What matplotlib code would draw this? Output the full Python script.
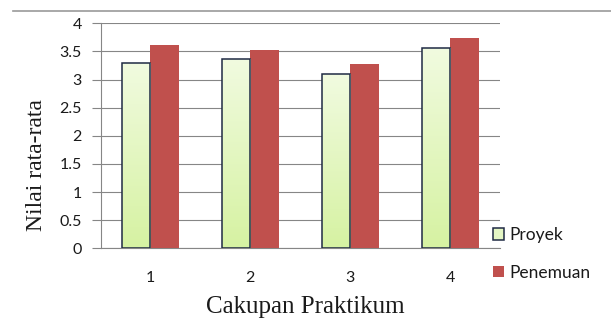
import numpy as np
import matplotlib
matplotlib.use("Agg")
import matplotlib.pyplot as plt
from matplotlib.colors import LinearSegmentedColormap
from matplotlib.lines import Line2D

# Mean scores per practicum scope, for the two learning models
categories = ["1", "2", "3", "4"]
proyek = [3.29, 3.36, 3.09, 3.56]
penemuan = [3.62, 3.53, 3.27, 3.73]
y_ticks = [0, 0.5, 1, 1.5, 2, 2.5, 3, 3.5, 4]
y_tick_labels = ["0", "0.5", "1", "1.5", "2", "2.5", "3", "3.5", "4"]

GRID = "#868686"
RED = "#C0504D"
GREEN = "#E4F6C4"
EDGE = "#1F2A44"
TEXT = "#1a1a1a"
SANS = ["Lato", "DejaVu Sans"]
SERIF = ["Liberation Serif", "DejaVu Serif"]

fig = plt.figure(figsize=(6.11, 3.2), dpi=100)
ax = fig.add_axes([100.5 / 611, 71.7 / 320, 399.5 / 611, 225.0 / 320])

x = np.arange(1, len(categories) + 1)
w = 0.285
b1 = ax.bar(x - w / 2, proyek, width=w, color=GREEN, edgecolor=EDGE,
            linewidth=1.1, zorder=3, label="Proyek")
b2 = ax.bar(x + w / 2, penemuan, width=w, color=RED, edgecolor="none",
            zorder=3, label="Penemuan")

ax.set_xlim(0.5, 4.5)
ax.set_ylim(0, 4)
ax.set_yticks(y_ticks)
ax.set_yticklabels(y_tick_labels)
ax.set_xticks(x)
ax.set_xticklabels(categories)

ax.grid(axis="y", color=GRID, linewidth=0.8, zorder=0)
ax.set_axisbelow(True)
for side in ("top", "right"):
    ax.spines[side].set_visible(False)
for side in ("left", "bottom"):
    ax.spines[side].set_color(GRID)
    ax.spines[side].set_linewidth(0.8)

ax.tick_params(axis="y", length=6.5, width=0.8, color=GRID, pad=7,
               labelsize=11.5, labelcolor=TEXT)
ax.tick_params(axis="x", length=0, pad=16, labelsize=11.5, labelcolor=TEXT)
for lab in ax.get_xticklabels() + ax.get_yticklabels():
    lab.set_family(SANS)

ax.set_xlabel("Cakupan Praktikum", family=SERIF, fontsize=18, color=TEXT)
ax.xaxis.set_label_coords(0.512, -0.262)
ax.xaxis.label.set_va("center")
ax.set_ylabel("Nilai rata-rata", family=SERIF, fontsize=17, color=TEXT)
ax.yaxis.set_label_coords(-0.16, 0.37)
ax.yaxis.label.set_va("center")

leg = ax.legend(handles=[b1, b2], loc="center left",
                bbox_to_anchor=(493 / 611, 1 - 254 / 320),
                bbox_transform=fig.transFigure, frameon=False,
                prop={"family": SANS, "size": 12.5}, handlelength=0.62,
                handleheight=0.62, handletextpad=0.35, labelspacing=1.25,
                borderpad=0, borderaxespad=0)
for t in leg.get_texts():
    t.set_color(TEXT)

# vertical gradient inside the Proyek bars
cmap = LinearSegmentedColormap.from_list("proyek", ["#D6F2A2", "#F1FBE0"])
grad = np.linspace(0, 1, 256).reshape(-1, 1)
for patch in b1.patches:
    x0, y0 = patch.get_x(), patch.get_y()
    x1, y1 = x0 + patch.get_width(), y0 + patch.get_height()
    im = ax.imshow(grad, extent=[x0, x1, y0, y1], origin="lower",
                   aspect="auto", cmap=cmap, zorder=3.05)
    im.set_clip_path(patch)
    patch.set_facecolor("none")
    patch.set_zorder(3.1)

ax.set_xlim(0.5, 4.5)
ax.set_ylim(0, 4)

# chart frame edge along the top
fig.add_artist(Line2D([13 / 611, 1.0], [1 - 11 / 320, 1 - 11 / 320],
                      transform=fig.transFigure, color="#999999", linewidth=1.2))

fig.savefig("out.png", dpi=100)
